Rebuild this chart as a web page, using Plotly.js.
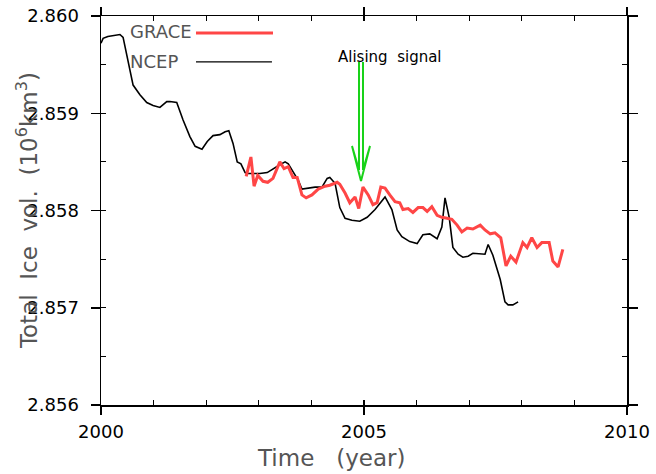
<!DOCTYPE html>
<html>
<head>
<meta charset="utf-8">
<script src="https://cdn.plot.ly/plotly-3.0.1.min.js"></script>
<style>html,body{margin:0;padding:0;background:#fff;}#chart{width:656px;height:474px;}</style>
</head>
<body>
<div id="chart"></div>
<script>
// NCEP model series (time in years, total ice volume in 10^6 km^3)
const ncepTime = [2000.00,2000.04,2000.13,2000.27,2000.36,2000.42,2000.51,2000.61,2000.74,2000.87,2000.99,2001.12,2001.25,2001.31,2001.44,2001.56,2001.69,2001.79,2001.92,2002.02,2002.13,2002.26,2002.36,2002.43,2002.51,2002.59,2002.66,2002.74,2002.79,2002.89,2003.02,2003.16,2003.27,2003.40,2003.50,2003.56,2003.65,2003.75,2003.82,2003.92,2004.07,2004.20,2004.30,2004.35,2004.45,2004.54,2004.64,2004.77,2004.92,2005.06,2005.21,2005.40,2005.53,2005.63,2005.72,2005.87,2006.01,2006.12,2006.25,2006.39,2006.48,2006.54,2006.62,2006.69,2006.79,2006.88,2006.98,2007.07,2007.21,2007.30,2007.36,2007.45,2007.59,2007.68,2007.74,2007.83,2007.93];
const ncepVol = [2.85972,2.85977,2.85979,2.85980,2.85981,2.85978,2.85955,2.85929,2.85919,2.85911,2.85908,2.85906,2.85912,2.85912,2.85911,2.85893,2.85876,2.85866,2.85863,2.85871,2.85877,2.85878,2.85881,2.85882,2.85869,2.85850,2.85848,2.85839,2.85838,2.85838,2.85838,2.85839,2.85843,2.85847,2.85850,2.85848,2.85840,2.85831,2.85822,2.85823,2.85824,2.85824,2.85833,2.85834,2.85828,2.85803,2.85792,2.85790,2.85789,2.85793,2.85801,2.85814,2.85801,2.85780,2.85773,2.85768,2.85766,2.85775,2.85776,2.85771,2.85783,2.85813,2.85793,2.85762,2.85755,2.85752,2.85753,2.85756,2.85755,2.85755,2.85765,2.85754,2.85729,2.85706,2.85703,2.85703,2.85706];

// GRACE series
const graceTime = [2002.76,2002.85,2002.91,2002.98,2003.08,2003.17,2003.27,2003.40,2003.48,2003.56,2003.65,2003.73,2003.82,2003.90,2004.01,2004.13,2004.26,2004.35,2004.49,2004.54,2004.64,2004.73,2004.83,2004.90,2004.98,2005.08,2005.17,2005.25,2005.32,2005.40,2005.49,2005.59,2005.68,2005.74,2005.84,2005.93,2006.03,2006.12,2006.20,2006.29,2006.39,2006.48,2006.58,2006.67,2006.77,2006.86,2006.96,2007.07,2007.21,2007.30,2007.40,2007.49,2007.60,2007.70,2007.79,2007.89,2008.02,2008.10,2008.19,2008.29,2008.38,2008.52,2008.59,2008.69,2008.78];
const graceVol = [2.85835,2.85855,2.85825,2.85836,2.85830,2.85829,2.85833,2.85850,2.85843,2.85845,2.85834,2.85834,2.85816,2.85813,2.85816,2.85822,2.85825,2.85826,2.85829,2.85827,2.85818,2.85808,2.85814,2.85802,2.85824,2.85816,2.85806,2.85808,2.85824,2.85823,2.85816,2.85809,2.85808,2.85801,2.85802,2.85798,2.85803,2.85803,2.85799,2.85804,2.85795,2.85793,2.85792,2.85791,2.85785,2.85778,2.85782,2.85781,2.85785,2.85780,2.85776,2.85777,2.85772,2.85743,2.85753,2.85747,2.85767,2.85762,2.85772,2.85762,2.85767,2.85767,2.85748,2.85742,2.85760];

const seriesNames = ["GRACE", "NCEP"];
const xRange = [2000, 2010];
const yRange = [2.856, 2.860];
const xTickVals = [2000, 2005, 2010];
const xTickText = ["2000", "2005", "2010"];
const yTickVals = [2.856, 2.857, 2.858, 2.859, 2.860];
const yTickText = ["2.856", "2.857", "2.858", "2.859", "2.860"];

const RED = "#ff4646";
const GREEN = "#19d219";
const tickFont = {family: "DejaVu Sans", size: 18, color: "#000"};
const lightFont = {family: "DejaVu Sans", size: 23, color: "#555"};

const traces = [
  {x: ncepTime, y: ncepVol, mode: "lines", name: seriesNames[1],
   line: {color: "#000", width: 1.6}, hoverinfo: "skip"},
  {x: graceTime, y: graceVol, mode: "lines", name: seriesNames[0],
   line: {color: RED, width: 3}, hoverinfo: "skip"},
  {x: [xRange[0]], y: [yRange[0]], xaxis: "x2", yaxis: "y2", mode: "markers",
   marker: {opacity: 0}, hoverinfo: "skip", showlegend: false}
];

const layout = {
  width: 656, height: 474,
  margin: {l: 101, r: 29, t: 16, b: 69, pad: 0},
  paper_bgcolor: "#fff", plot_bgcolor: "#fff",
  showlegend: false,
  xaxis: {range: xRange, autorange: false, tickmode: "array", tickvals: xTickVals, ticktext: xTickText,
    ticks: "outside", ticklen: 8, tickwidth: 1.5, tickcolor: "#000", mirror: "ticks",
    showline: true, linecolor: "#000", linewidth: 1.5, showgrid: false, zeroline: false,
    tickfont: tickFont, ticklabelstandoff: 2, fixedrange: true},
  yaxis: {range: yRange, autorange: false, tickmode: "array", tickvals: yTickVals, ticktext: yTickText,
    ticks: "outside", ticklen: 9, tickwidth: 1.5, tickcolor: "#000", mirror: "ticks",
    showline: true, linecolor: "#000", linewidth: 1.5, showgrid: false, zeroline: false,
    tickfont: tickFont, ticklabelstandoff: 8, fixedrange: true},
  xaxis2: {overlaying: "x", range: xRange, autorange: false, dtick: 1, tick0: 2000,
    ticks: "inside", ticklen: 5, tickwidth: 1.2, tickcolor: "#000", mirror: "ticks",
    showticklabels: false, showline: true, linecolor: "#000", linewidth: 1.5,
    showgrid: false, zeroline: false, fixedrange: true},
  yaxis2: {overlaying: "y", range: yRange, autorange: false, dtick: 0.0005, tick0: 2.856,
    ticks: "inside", ticklen: 5, tickwidth: 1.2, tickcolor: "#000", mirror: "ticks",
    showticklabels: false, showline: true, linecolor: "#000", linewidth: 1.5,
    showgrid: false, zeroline: false, fixedrange: true},
  annotations: [
    {xref: "paper", yref: "paper", x: -0.1407, y: 0.501, xanchor: "center", yanchor: "middle",
     textangle: -90, showarrow: false, font: lightFont,
     text: "Total\u00a0\u00a0Ice\u00a0\u00a0vol.\u00a0\u00a0(10<sup>6</sup>km<sup>3</sup>)"},
    {xref: "paper", yref: "paper", x: 0.437, y: -0.136, xanchor: "center", yanchor: "middle",
     showarrow: false, font: lightFont, text: "Time\u00a0\u00a0\u00a0(year)"},
    {xref: "paper", yref: "paper", x: 0.0513, y: 0.959, xanchor: "left", yanchor: "middle",
     showarrow: false, font: {family: "DejaVu Sans", size: 18, color: "#555"},
     text: seriesNames[0]},
    {xref: "paper", yref: "paper", x: 0.0513, y: 0.882, xanchor: "left", yanchor: "middle",
     showarrow: false, font: {family: "DejaVu Sans", size: 18, color: "#555"},
     text: seriesNames[1]},
    {xref: "paper", yref: "paper", x: 0.549, y: 0.8946, xanchor: "center", yanchor: "middle",
     showarrow: false, font: {family: "DejaVu Sans", size: 15, color: "#000"},
     text: "Alising\u00a0\u00a0signal"}
  ],
  shapes: [
    {type: "line", xref: "paper", yref: "paper", x0: 0.1806, x1: 0.327, y0: 0.956, y1: 0.956,
     line: {color: RED, width: 3}},
    {type: "line", xref: "paper", yref: "paper", x0: 0.1806, x1: 0.325, y0: 0.882, y1: 0.882,
     line: {color: "#000", width: 1.3}},
    {type: "path", xref: "x", yref: "y",
     path: "M 2004.905 2.859527 L 2004.905 2.858416 L 2004.772 2.858663 L 2004.943 2.858303 L 2005.114 2.858663 L 2004.981 2.858416 L 2004.981 2.859527",
     line: {color: GREEN, width: 2}}
  ]
};

Plotly.newPlot("chart", traces, layout, {displayModeBar: false, staticPlot: true});
</script>
</body>
</html>
